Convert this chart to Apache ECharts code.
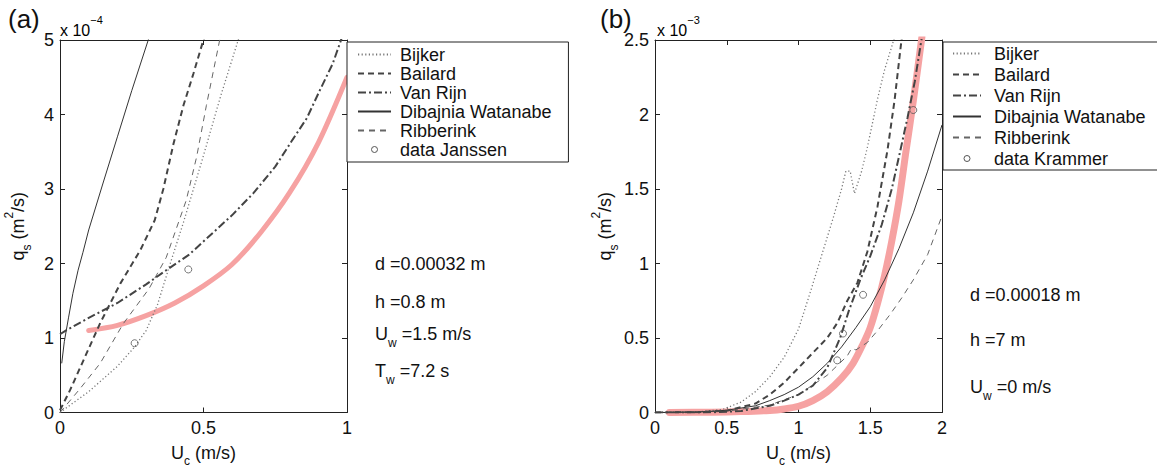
<!DOCTYPE html>
<html><head><meta charset="utf-8">
<script src="https://cdn.jsdelivr.net/npm/echarts@6/dist/echarts.min.js"></script>
<style>html,body{margin:0;padding:0;background:#fff}#c{width:1157px;height:468px}</style>
</head><body><div id="c"></div>
<script>
const FONT = 'Liberation Sans, Arial, Helvetica, sans-serif';

// ---------- Panel (a): q_s in units of 1e-4 m^2/s ----------
const xTicksA = [0, 0.5, 1];
const yTicksA = [0, 1, 2, 3, 4, 5];
const redA = [[0.1,1.10],[0.2,1.17],[0.3,1.30],[0.4,1.47],[0.5,1.70],[0.6,1.99],[0.7,2.42],[0.8,2.95],[0.9,3.62],[1.0,4.5]];
const bijkerA = [[0,0],[0.1,0.28],[0.2,0.62],[0.26,0.88],[0.3,1.1],[0.34,1.45],[0.38,1.95],[0.43,2.55],[0.5,3.45],[0.56,4.25],[0.625,5.05]];
const bailardA = [[0,0.03],[0.035,0.3],[0.07,0.6],[0.14,1.2],[0.21,1.73],[0.28,2.18],[0.33,2.58],[0.36,3.0],[0.395,3.6],[0.43,4.12],[0.465,4.55],[0.502,5.03]];
const vanRijnA = [[0,1.05],[0.02,1.1],[0.1,1.27],[0.2,1.47],[0.3,1.72],[0.37,1.91],[0.45,2.12],[0.535,2.42],[0.6,2.65],[0.673,2.94],[0.75,3.3],[0.81,3.66],[0.86,3.95],[0.906,4.33],[0.95,4.68],[0.982,5.03]];
const dibajniaA = [[0.006,0.66],[0.015,0.95],[0.03,1.28],[0.045,1.6],[0.063,1.91],[0.08,2.15],[0.1,2.45],[0.15,3.08],[0.2,3.7],[0.25,4.32],[0.31,5.03]];
const ribberinkA = [[0,0],[0.07,0.32],[0.14,0.66],[0.22,1.19],[0.31,1.66],[0.37,2.08],[0.44,2.85],[0.476,3.43],[0.51,4.12],[0.558,5.03]];
const janssen = [[0.26,0.93],[0.447,1.92]];

// ---------- Panel (b): q_s in units of 1e-3 m^2/s ----------
const xTicksB = [0, 0.5, 1, 1.5, 2];
const yTicksB = [0, 0.5, 1, 1.5, 2, 2.5];
const redB = [[0.1,0],[0.4,0.002],[0.6,0.006],[0.8,0.014],[0.9,0.024],[1.0,0.042],[1.1,0.08],[1.2,0.14],[1.3,0.23],[1.38,0.33],[1.45,0.46],[1.5,0.57],[1.55,0.73],[1.6,0.92],[1.65,1.15],[1.7,1.42],[1.75,1.76],[1.8,2.09],[1.86,2.52]];
const bijkerB = [[0,0],[0.3,0.005],[0.47,0.02],[0.6,0.07],[0.7,0.14],[0.8,0.24],[0.9,0.37],[1.0,0.56],[1.08,0.8],[1.15,1.02],[1.24,1.3],[1.3,1.5],[1.33,1.62],[1.36,1.62],[1.39,1.47],[1.44,1.62],[1.48,1.78],[1.55,2.1],[1.6,2.3],[1.67,2.52]];
const bailardB = [[0,0],[0.3,0.002],[0.5,0.012],[0.7,0.06],[0.8,0.12],[0.9,0.2],[1.0,0.3],[1.1,0.4],[1.2,0.5],[1.27,0.6],[1.34,0.75],[1.41,0.87],[1.48,1.08],[1.55,1.38],[1.62,1.76],[1.67,2.1],[1.72,2.52]];
const vanRijnB = [[0,0],[0.4,0.001],[0.6,0.01],[0.8,0.045],[0.9,0.08],[1.0,0.12],[1.1,0.18],[1.2,0.3],[1.29,0.5],[1.35,0.68],[1.43,0.89],[1.5,1.05],[1.58,1.26],[1.65,1.5],[1.71,1.76],[1.76,1.98],[1.81,2.22],[1.86,2.52]];
const dibajniaB = [[0,0],[0.3,0.003],[0.5,0.015],[0.7,0.045],[0.8,0.08],[0.9,0.12],[1.0,0.17],[1.1,0.24],[1.2,0.33],[1.3,0.44],[1.4,0.57],[1.5,0.71],[1.6,0.89],[1.7,1.1],[1.8,1.34],[1.9,1.62],[2.0,1.93]];
const ribberinkB = [[0,0],[0.5,0.008],[0.8,0.05],[1.0,0.12],[1.2,0.25],[1.34,0.38],[1.37,0.43],[1.40,0.42],[1.48,0.47],[1.56,0.56],[1.64,0.66],[1.72,0.77],[1.8,0.89],[1.9,1.06],[2.0,1.32]];
const krammer = [[1.27,0.35],[1.31,0.53],[1.45,0.79],[1.80,2.03]];

const legendA = ['Bijker','Bailard','Van Rijn','Dibajnia Watanabe','Ribberink','data Janssen'];
const legendB = ['Bijker','Bailard','Van Rijn','Dibajnia Watanabe','Ribberink','data Krammer'];

const AX = '#222';
const RICH = {
  m: {fontSize: 18, fontFamily: FONT, color: '#111', lineHeight: 30},
  s: {fontSize: 12, fontFamily: FONT, color: '#111', lineHeight: 12, verticalAlign: 'bottom'},
  p: {fontSize: 12, fontFamily: FONT, color: '#111', lineHeight: 12, verticalAlign: 'top'}
};
const RICHX = {
  m: {fontSize: 18, fontFamily: FONT, color: '#111', lineHeight: 28},
  s: {fontSize: 12, fontFamily: FONT, color: '#111', lineHeight: 12, verticalAlign: 'bottom'}
};

function xAx(grid, max, pos, show) {
  return {type:'value', gridIndex:grid, min:0, max:max, interval:0.5, position:pos,
    axisLine:{show:true, onZero:false, lineStyle:{color:AX, width:1}},
    axisTick:{show:true, inside:true, length:5, lineStyle:{color:AX}},
    axisLabel:{show:show, color:'#111', fontSize:18, fontFamily:FONT, margin:6},
    splitLine:{show:false},
    name: show ? '{m|U}{s|c}{m| (m/s)}' : '', nameLocation:'middle', nameGap:26,
    nameTextStyle:{rich:RICHX, verticalAlign:'top'}};
}
function yAx(grid, max, interval, pos, show) {
  return {type:'value', gridIndex:grid, min:0, max:max, interval:interval, position:pos,
    axisLine:{show:true, onZero:false, lineStyle:{color:AX, width:1}},
    axisTick:{show:true, inside:true, length:5, lineStyle:{color:AX}},
    axisLabel:{show:show, color:'#111', fontSize:18, fontFamily:FONT, margin:6},
    splitLine:{show:false},
    name: show ? '{m|q}{s|s}{m| (m}{p|2}{m|/s)}' : '', nameLocation:'middle', nameGap:27, nameRotate:90,
    nameTextStyle:{rich:RICH}};
}

function line(name, data, xi, color, width, type, z) {
  return {type:'line', name:name, data:data, xAxisIndex:xi, yAxisIndex:xi, symbol:'none', smooth:false,
    lineStyle:{color:color, width:width, type:type}, itemStyle:{color:color}, z:z||3, silent:true, animation:false};
}
function red(data, xi, width) {
  return {type:'line', name:'model', data:data, xAxisIndex:xi, yAxisIndex:xi, symbol:'none', smooth:0.3,
    lineStyle:{color:'#f6a2a2', width:width, cap:'round'}, z:2, silent:true, animation:false};
}
function pts(name, data, xi) {
  return {type:'scatter', name:name, data:data, xAxisIndex:xi, yAxisIndex:xi, symbol:'circle', symbolSize:7,
    itemStyle:{color:'rgba(0,0,0,0)', borderColor:'#555', borderWidth:1}, z:5, silent:true, animation:false};
}

const DOT = [1.2, 2.4], DASH = [6, 4], DASHDOT = [8, 3, 2, 3], TDASH = [6, 5];
const circIcon = 'path://M0,0M28,14M17,7a3,3 0 1,1 -6,0a3,3 0 1,1 6,0z';
const HIDE = {color:'rgba(0,0,0,0)', borderColor:'rgba(0,0,0,0)', borderWidth:0, opacity:0};

function legend(names, left, top, lh, pad, iw, tpad) {
  return {orient:'vertical', left:left, top:top, padding:pad, itemWidth:iw, itemHeight:14, itemGap:0,
    borderColor:AX, borderWidth:1, backgroundColor:'#fff', selectedMode:false,
    itemStyle:HIDE,
    textStyle:{fontSize:18, fontFamily:FONT, color:'#111', lineHeight:lh, padding:[0,0,0,tpad]},
    data: names.map(n => n.startsWith('data') ?
      {name:n, icon:circIcon, itemStyle:{color:'rgba(0,0,0,0)', borderColor:'#555', borderWidth:1, opacity:1}} : {name:n})};
}

function txt(x, y, text) {
  return {type:'text', x:x, y:y, style:{text:text, rich:RICH, font:'18px ' + FONT, fill:'#111', verticalAlign:'middle'}};
}
const EXP = {n:{fontSize:16, fontFamily:FONT, color:'#111', lineHeight:24, verticalAlign:'bottom'}, p:{fontSize:11, fontFamily:FONT, color:'#111', lineHeight:11, verticalAlign:'top'}};

const chart = echarts.init(document.getElementById('c'), null, {renderer:'svg'});
chart.setOption({
  animation:false,
  backgroundColor:'#fff',
  grid:[
    {left:60, top:40, width:287, height:372.5, show:false, containLabel:false, outerBoundsMode:'none'},
    {left:655, top:40, width:287, height:372.5, show:false, containLabel:false, outerBoundsMode:'none'}
  ],
  xAxis:[xAx(0,1,'bottom',true), xAx(0,1,'top',false), xAx(1,2,'bottom',true), xAx(1,2,'top',false)],
  yAxis:[yAx(0,5,1,'left',true), yAx(0,5,1,'right',false), yAx(1,2.5,0.5,'left',true), yAx(1,2.5,0.5,'right',false)],
  legend:[
    legend(legendA, 347, 42, 19, [3,17,3,10], 33, 4),
    legend(legendB, 943, 42, 21, [1,20,1,9], 28, 8)
  ],
  series:[
    red(redA, 0, 5),
    line('Bijker', bijkerA, 0, '#777', 1.3, DOT),
    line('Ribberink', ribberinkA, 0, '#666', 1, TDASH),
    line('Dibajnia Watanabe', dibajniaA, 0, '#333', 1),
    line('Bailard', bailardA, 0, '#444', 2, DASH),
    line('Van Rijn', vanRijnA, 0, '#444', 2, DASHDOT),
    pts('data Janssen', janssen, 0),
    red(redB, 2, 7),
    line('Bijker', bijkerB, 2, '#777', 1.3, DOT),
    line('Ribberink', ribberinkB, 2, '#666', 1, TDASH),
    line('Dibajnia Watanabe', dibajniaB, 2, '#333', 1),
    line('Bailard', bailardB, 2, '#444', 2, DASH),
    line('Van Rijn', vanRijnB, 2, '#444', 2, DASHDOT),
    pts('data Krammer', krammer, 2)
  ],
  graphic:[
    {type:'text', left:8, top:6, style:{text:'(a)', font:'26px ' + FONT, fill:'#111'}},
    {type:'text', left:600, top:6, style:{text:'(b)', font:'26px ' + FONT, fill:'#111'}},
    {type:'text', left:60, top:14, style:{text:'{n|x 10}{p|−4}', rich:EXP}},
    {type:'text', left:657, top:14, style:{text:'{n|x 10}{p|−3}', rich:EXP}},
    txt(375, 264, '{m|d =0.00032 m}'),
    txt(375, 302, '{m|h =0.8 m}'),
    txt(375, 334, '{m|U}{s|w}{m| =1.5 m/s}'),
    txt(375, 371, '{m|T}{s|w}{m| =7.2 s}'),
    txt(970, 295, '{m|d =0.00018 m}'),
    txt(970, 340, '{m|h =7 m}'),
    txt(970, 387, '{m|U}{s|w}{m| =0 m/s}')
  ]
});
</script></body></html>
